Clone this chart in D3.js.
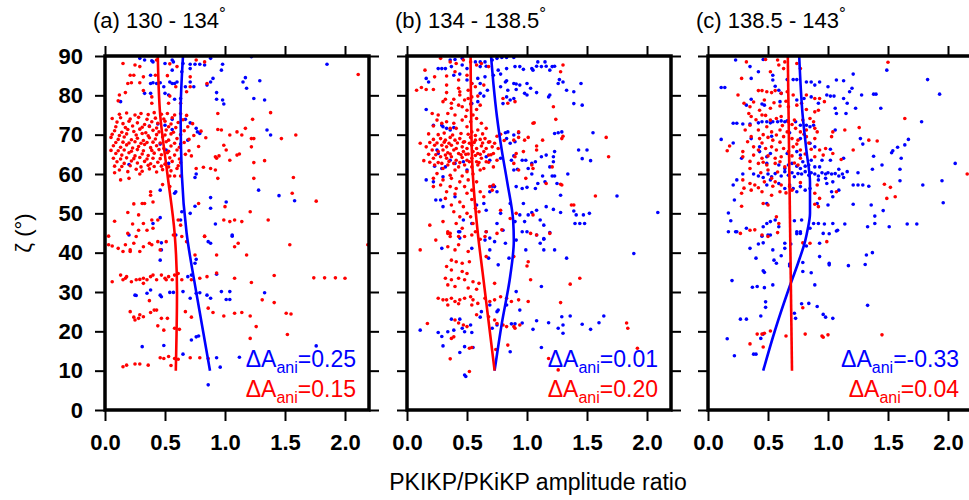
<!DOCTYPE html>
<html>
<head>
<meta charset="utf-8">
<script src="https://cdn.jsdelivr.net/npm/d3@7"></script>
<style>
  body { margin: 0; background: #fff; }
  svg text { font-family: "Liberation Sans", Arial, Helvetica, sans-serif; }
</style>
</head>
<body>
<script>
// tick values
var xTicks = [0, 0.5, 1.0, 1.5, 2.0];
var yTicks = [0, 10, 20, 30, 40, 50, 60, 70, 80, 90];

// panel labels
var panelTags = ['(a)', '(b)', '(c)'];
var panelRanges = ['130 - 134', '134 - 138.5', '138.5 - 143'];
var dAniBlue = ['0.25', '0.01', '-0.33'];
var dAniRed = ['0.15', '0.20', '0.04'];

// fitted curves [ratio, zeta]
var redFitA = [[0.44,90],[0.46,75],[0.52,60],[0.58,45],[0.60,30],[0.59,10]];
var blueFitA = [[0.65,90],[0.63,75],[0.64,60],[0.68,45],[0.76,30],[0.875,10]];
var redFitB = [[0.53,90],[0.54,66],[0.59,45],[0.63,35],[0.73,10]];
var blueFitB = [[0.70,90],[0.72,83],[0.75,74.5],[0.79,66],[0.835,58],[0.885,48],[0.89,43],[0.86,34],[0.79,22],[0.73,10]];
var redFitC = [[0.665,90],[0.70,10]];
var blueFitC = [[0.76,90],[0.79,74.5],[0.82,66],[0.85,57.8],[0.85,50],[0.83,45.8],[0.81,43],[0.75,37.3],[0.67,30.5],[0.56,20.4],[0.46,10]];

// measurements [ratio, zeta]
var redA = [
 [0.15,88.1],[0.25,87.7],[0.29,87.3],[0.54,88.0],[0.6,87.3],[0.76,89.0],[0.83,88.5],[0.21,85.1],[0.24,85.1],[0.32,84.7],[0.19,83.0],[0.22,83.2],[0.29,83.2],[0.42,85.1],[0.52,85.0],[0.71,84.7],[0.85,83.0],[0.12,80.1],[0.17,80.7],[0.32,81.2],[0.39,79.6],[0.54,79.8],[0.68,80.9],[0.71,82.2],[0.59,82.2],[0.11,78.6],[0.53,78.0],[0.63,78.0],[0.39,78.0],[0.94,75.4],[1.23,73.9],[1.38,75.6],[2.11,85.3],[0.43,89.0],
 [0.12,75.2],[0.18,75.5],[0.25,75.0],[0.3,75.4],[0.36,75.1],[0.41,75.6],[0.47,75.2],[0.52,75.4],[0.58,75.0],[0.63,75.3],[0.68,74.9],
 [0.06,74.1],[0.13,74.3],[0.21,74.0],[0.28,74.4],[0.35,73.9],[0.42,74.2],[0.49,74.0],[0.56,74.3],[0.65,73.8],
 [0.1,73.2],[0.15,72.8],[0.2,73.4],[0.27,73.0],[0.33,72.6],[0.39,73.3],[0.44,72.9],[0.5,73.4],[0.55,72.7],[0.61,73.1],[0.73,72.8],
 [0.09,72.0],[0.17,71.8],[0.23,72.2],[0.31,71.9],[0.37,72.1],[0.43,71.7],[0.53,72.0],[0.59,71.8],[0.69,72.0],
 [0.08,71.0],[0.14,70.6],[0.19,71.3],[0.24,70.8],[0.29,71.4],[0.34,70.5],[0.4,71.1],[0.45,70.7],[0.51,71.2],[0.57,70.6],[0.66,71.0],[0.8,70.9],
 [0.06,70.1],[0.12,69.8],[0.18,70.2],[0.26,69.9],[0.31,70.3],[0.36,69.7],[0.43,70.0],[0.5,69.9],[0.55,70.2],[0.63,70.0],[0.74,69.8],
 [0.05,69.3],[0.11,68.8],[0.16,69.4],[0.22,68.7],[0.27,69.1],[0.32,68.5],[0.37,69.2],[0.42,68.9],[0.48,69.4],[0.53,68.6],[0.6,69.0],[0.7,68.8],[0.84,69.2],
 [0.09,68.0],[0.15,68.1],[0.2,67.9],[0.25,68.2],[0.3,67.8],[0.35,68.0],[0.4,68.1],[0.46,67.9],[0.51,68.2],[0.58,67.8],[0.66,68.0],
 [0.07,67.2],[0.13,66.8],[0.18,67.4],[0.23,66.6],[0.28,67.0],[0.33,67.5],[0.38,66.7],[0.43,67.2],[0.49,66.5],[0.55,67.1],[0.62,66.8],[0.78,67.0],
 [0.05,66.0],[0.11,65.9],[0.16,66.1],[0.22,65.8],[0.27,66.2],[0.32,65.9],[0.39,66.0],[0.45,66.2],[0.53,65.8],[0.6,66.1],[0.7,65.9],
 [0.09,65.2],[0.14,64.8],[0.2,65.4],[0.25,64.6],[0.31,65.1],[0.36,64.7],[0.41,65.3],[0.47,64.9],[0.52,65.4],[0.58,64.8],[0.67,65.0],[0.72,64.6],
 [0.07,64.0],[0.13,63.8],[0.18,64.1],[0.24,63.9],[0.29,64.2],[0.35,63.8],[0.4,64.0],[0.46,63.9],[0.54,64.1],[0.62,63.8],
 [0.1,63.1],[0.16,62.7],[0.22,63.3],[0.27,62.8],[0.33,63.2],[0.38,62.6],[0.44,63.0],[0.5,62.5],[0.56,63.2],[0.63,62.9],
 [0.08,62.0],[0.14,61.9],[0.21,62.1],[0.3,61.8],[0.36,62.2],[0.41,61.9],[0.47,62.0],[0.53,61.8],[0.61,62.1],
 [0.12,61.0],[0.19,60.6],[0.26,61.2],[0.31,60.7],[0.37,61.3],[0.43,60.5],[0.48,61.1],[0.55,60.8],[0.6,61.4],
 [0.94,71.3],[0.97,71.2],[1.04,69.9],[1.1,70.7],[1.17,71.6],[1.14,69.9],[1.22,69.0],[1.24,69.0],[1.47,69.0],[1.59,69.9],[1.22,66.9],[0.99,67.3],[1.01,66.1],[1.1,64.8],[1.12,65.1],[1.04,63.5],[0.93,64.0],[0.92,64.4],[0.95,64.6],[1.24,62.9],[1.33,63.4],[0.88,61.4],[0.92,61.0],[0.82,61.7],[0.76,61.4],[0.54,59.5],[0.58,59.5],[0.63,59.5],[0.08,60.3],[0.13,58.5],[0.29,60.0],[0.2,58.9],[0.94,58.9],[1.24,58.9],[1.57,59.1],[0.48,57.3],[0.54,56.8],[0.38,55.5],[0.38,54.6],[1.56,55.1],[1.76,53.1],[0.24,52.4],[0.31,52.5],[0.33,52.5],[0.4,52.9],[0.78,52.5],[1.0,51.7],[1.21,50.4],[0.19,50.2],[0.28,49.6],[0.39,48.3],[0.44,48.3],[0.61,48.3],[0.08,48.0],[0.23,47.3],[0.32,47.4],[0.35,45.7],[0.4,46.2],[0.63,47.0],[0.99,48.3],[1.04,47.9],[1.08,48.3],[1.14,47.9],[1.36,48.3],[0.83,44.2],[0.03,44.2],[0.28,45.7],
 [0.03,42.0],[0.06,41.7],[0.11,41.1],[0.15,40.3],[0.17,42.0],[0.21,40.3],[0.24,42.4],[0.29,40.3],[0.32,41.5],[0.37,42.4],[0.39,42.0],[0.44,42.8],[0.46,40.7],[0.51,42.8],[0.57,44.5],[0.64,44.1],[0.68,42.8],[0.75,39.4],[0.83,44.1],[0.93,39.4],[1.08,41.5],[1.11,42.4],[1.18,39.4],[1.54,42.0],[2.19,42.0],[0.19,44.9],[0.26,44.1],[0.21,40.7],
 [0.06,32.6],[0.13,34.3],[0.15,33.1],[0.18,33.9],[0.22,32.6],[0.26,33.1],[0.29,33.2],[0.32,32.2],[0.35,33.1],[0.38,33.9],[0.4,34.3],[0.43,33.1],[0.47,34.3],[0.5,33.5],[0.53,33.9],[0.56,33.1],[0.58,34.3],[0.64,33.1],[0.72,33.1],[0.79,33.5],[0.85,33.9],[0.93,34.8],[1.08,33.5],[1.22,32.4],[1.41,34.2],[1.74,33.6],[1.83,33.6],[1.92,33.6],[2.0,33.5],[0.17,33.5],[0.32,33.5],[0.51,33.1],[0.61,34.7],
 [0.37,27.8],[0.41,25.4],[0.43,25.4],[0.21,25.0],[0.24,23.6],[0.28,23.3],[0.29,24.2],[0.32,23.7],[0.25,22.9],[0.38,24.8],[0.47,23.3],[0.52,23.3],[0.44,21.4],[0.49,20.3],[0.67,25.0],[0.72,23.6],[0.86,25.9],[0.9,24.8],[0.99,23.9],[1.08,24.6],[1.14,24.8],[1.21,23.9],[1.26,21.2],[1.31,28.0],[1.41,27.3],[1.51,24.6],[1.55,24.4],[1.21,18.2],[1.52,19.2],[0.58,20.8],[0.62,20.5],
 [0.15,11.0],[0.18,11.4],[0.25,11.7],[0.29,11.7],[0.36,11.4],[0.46,13.3],[0.49,13.1],[0.53,13.6],[0.55,11.3],[0.58,13.1],[0.61,12.9],[0.71,13.3],[0.79,13.3],[0.86,13.1]
];

var blueA = [
 [0.29,89.4],[0.33,89.0],[0.39,88.8],[0.4,88.5],[0.5,88.1],[0.56,89.0],[0.57,88.5],[0.65,88.1],[0.71,87.9],[0.75,87.9],[0.79,87.9],[0.83,87.7],[0.88,89.4],[0.98,87.9],[1.22,89.8],[1.85,87.9],[0.97,86.4],[0.56,86.4],[0.71,86.8],[0.64,86.0],[0.38,85.1],
 [1.17,84.5],[1.15,83.4],[1.29,83.7],[0.9,84.3],[0.88,83.4],[0.85,82.6],[0.38,83.0],[0.4,83.2],[0.43,83.0],[0.46,83.2],[0.54,83.4],[0.56,83.0],[0.58,83.0],[0.6,83.4],[0.71,83.4],[0.74,82.2],[0.67,82.2],[0.49,82.2],[0.33,80.5],[0.38,80.5],[0.5,80.5],[0.53,80.1],[0.93,80.7],[1.18,81.8],[1.24,79.2],[0.93,79.0],[0.98,78.8],[0.99,77.8],[1.33,78.8],[0.13,78.4],[0.58,79.0],[0.63,79.2],
 [0.37,72.2],[0.44,72.7],[0.5,72.4],[0.56,73.9],[0.56,71.3],[0.67,73.9],[0.71,73.0],[0.76,71.6],[0.77,70.7],[1.35,71.2],[1.38,69.9],[0.79,70.3],[0.51,66.1],[0.46,67.6],[0.63,67.6],[0.2,62.4],[0.53,62.7],[0.76,60.0],[0.75,59.1],[0.69,68.6],
 [0.46,55.9],[0.58,55.1],[0.59,55.5],[0.88,54.0],[1.01,52.9],[1.28,55.9],[1.45,54.5],[1.58,53.2],[0.75,51.8],[0.71,50.0],[0.88,51.3],[0.64,50.4],[0.63,48.3],[0.46,48.9],[0.4,47.4],[0.92,47.3],[0.2,44.5],[1.06,44.5],[0.59,44.5],
 [0.47,42.5],[0.47,40.7],[0.46,38.1],[0.76,38.3],[0.75,37.3],[0.72,34.3],[0.69,33.9],[0.86,42.8],[0.88,42.4],[1.06,44.2],[0.93,34.5],[0.25,29.2],[0.26,29.1],[0.38,30.5],[0.35,29.7],[0.46,29.2],[0.47,28.8],[0.54,29.9],[0.57,29.9],[0.65,30.1],[0.71,28.4],[0.76,29.7],[0.79,29.8],[0.85,29.2],[0.88,28.4],[0.97,30.1],[1.04,30.1],[1.01,28.1],[1.04,28.1],[1.33,29.8],[0.76,18.6],[0.78,18.8],[0.72,17.8],[0.31,16.1],[0.49,16.4],[1.76,16.3],[0.65,14.2],[0.93,13.3],[0.96,10.9],[1.12,13.4],[0.86,6.4]
];

var redB = [
 [0.28,89.4],[0.36,88.5],[0.41,88.1],[0.47,89.0],[0.53,88.5],[0.58,87.7],[0.62,88.1],[0.68,87.3],[1.3,87.7],[1.28,86.0],[0.15,86.4],[0.23,84.7],[0.33,84.9],[0.4,86.0],[0.43,83.9],[0.5,85.1],[0.54,83.0],[0.08,81.3],[0.12,82.0],[0.16,81.5],[0.22,81.5],[0.33,82.6],[0.43,81.8],[0.44,80.9],[0.51,81.3],[0.57,82.2],[0.64,82.6],[0.33,80.7],[0.44,80.1],[0.54,79.6],[0.32,79.0],[0.39,79.0],[0.48,78.8],[0.51,79.2],[0.59,79.8],[0.3,78.4],[0.37,78.0],[0.43,77.5],[0.46,77.1],[0.53,77.8],[0.61,77.5],[0.84,78.0],[0.9,78.4],[0.8,79.2],[0.37,76.7],[0.5,76.2],[0.58,76.4],[0.21,75.4],[0.26,75.0],[0.34,75.4],[0.4,75.0],[0.49,74.6],[0.55,75.0],[1.22,77.1],[1.24,73.9],
 [0.25,73.7],[0.29,72.9],[0.33,73.3],[0.39,72.9],[0.46,73.7],[0.53,73.3],[0.58,74.1],[0.62,72.9],[0.22,72.2],[0.36,71.6],[0.41,71.6],[0.5,72.0],[0.54,70.7],[0.59,71.2],[0.66,71.6],[1.05,72.9],[1.06,73.0],[0.93,70.7],[1.01,69.3],[0.98,68.6],[0.93,69.3],[0.89,68.6],[0.81,68.5],[0.75,69.6],[0.78,70.1],[1.3,69.6],[1.29,69.0],[1.13,68.6],[1.08,67.1],[1.66,69.3],[1.68,64.4],
 [0.18,70.2],[0.26,70.0],[0.31,70.4],[0.38,69.9],[0.45,70.3],[0.51,70.1],[0.57,69.8],[0.63,70.2],
 [0.19,68.0],[0.25,67.9],[0.31,68.1],[0.35,67.8],[0.42,67.9],[0.47,68.1],[0.52,67.8],[0.56,68.0],[0.63,67.9],[0.68,68.1],
 [0.18,65.0],[0.24,64.9],[0.32,64.8],[0.36,65.1],[0.45,64.9],[0.49,65.0],[0.57,64.7],[0.61,65.0],[0.7,64.9],
 [0.19,63.0],[0.26,62.9],[0.35,63.2],[0.44,62.9],[0.52,63.1],[0.6,62.9],[0.68,63.0],
 [0.22,68.8],[0.28,69.0],[0.32,68.6],[0.36,69.3],[0.4,68.6],[0.44,69.0],[0.48,68.2],[0.53,69.3],[0.57,68.6],[0.61,68.8],[0.65,69.0],[0.69,68.2],[0.73,67.8],[0.11,67.8],[0.16,66.9],[0.23,67.3],[0.29,67.3],[0.33,66.9],[0.37,67.3],[0.41,66.5],[0.46,66.9],[0.5,66.5],[0.54,67.3],[0.58,66.5],[0.62,67.1],[0.66,66.5],[0.71,66.9],[0.76,66.5],[0.21,66.1],[0.26,65.7],[0.3,66.1],[0.34,65.4],[0.39,66.1],[0.43,65.2],[0.47,65.7],[0.51,65.1],[0.55,65.7],[0.59,65.2],[0.64,65.7],[0.68,64.8],[0.72,65.2],[0.14,63.4],[0.22,64.0],[0.28,64.4],[0.33,64.0],[0.37,64.4],[0.41,63.5],[0.46,64.2],[0.5,63.5],[0.54,64.0],[0.58,63.1],[0.62,64.0],[0.66,63.1],[0.75,63.5],[0.23,62.3],[0.29,62.7],[0.34,62.3],[0.39,62.7],[0.43,61.8],[0.48,62.3],[0.54,61.8],[0.59,62.3],[0.64,61.4],[0.3,61.4],[0.4,61.0],[0.5,60.6],[0.61,61.0],[0.72,61.8],[0.25,60.1],[0.36,59.7],[0.46,59.5],[0.55,60.0],[0.91,65.2],[0.9,64.4],[0.97,65.7],[1.04,62.3],[1.05,61.4],[1.08,66.1],[1.21,61.8],[1.29,57.2],[1.37,52.1],[1.57,54.4],[1.16,57.6],[0.99,58.9],[0.93,61.0],[0.89,62.7],
 [0.22,58.9],[0.3,58.5],[0.37,58.9],[0.44,58.0],[0.51,58.5],[0.58,58.0],[0.28,57.2],[0.36,56.8],[0.41,56.3],[0.48,56.8],[0.54,55.9],[0.22,56.8],[0.69,56.8],[0.72,57.2],[0.71,55.9],[0.33,55.5],[0.4,54.9],[0.5,55.1],[0.61,55.5],[0.32,53.8],[0.44,52.9],[0.54,53.5],[0.64,54.2],[0.37,52.1],[0.47,51.7],[0.57,51.3],[0.78,50.8],[0.39,50.4],[0.5,50.0],[0.6,50.4],[0.53,49.1],[0.44,49.1],[0.86,48.7],[0.91,50.0],[1.05,49.6],[0.3,47.9],[0.41,47.4],[0.55,47.4],[0.19,47.0],[0.46,46.2],[0.34,45.3],[0.36,44.9],[0.66,45.3],[0.75,44.9],[1.03,44.9],[1.08,44.5],[1.19,44.9],[1.39,52.1],[1.28,57.4],
 [0.24,43.2],[0.34,44.9],[0.36,44.1],[0.43,44.1],[0.43,42.0],[0.48,44.1],[0.54,44.5],[0.57,45.3],[0.61,43.4],[0.65,44.1],[0.79,45.8],[0.11,40.7],[0.34,41.5],[0.4,40.7],[0.51,40.3],[0.66,39.0],[0.89,39.0],[1.01,37.7],[1.0,36.6],[0.37,38.1],[0.41,37.7],[0.46,37.3],[0.52,37.7],[0.33,36.5],[0.37,35.6],[0.46,35.2],[0.5,34.7],[0.32,33.5],[0.37,33.1],[0.43,33.5],[0.48,33.1],[0.55,32.6],[0.6,32.2],[0.34,31.8],[0.4,31.4],[0.51,31.0],[0.58,30.7],[0.73,32.2],[1.03,33.1],[1.36,32.0],[1.44,33.5],
 [0.26,28.4],[0.3,28.0],[0.33,28.0],[0.37,28.4],[0.4,27.6],[0.44,28.0],[0.48,28.4],[0.53,28.8],[0.55,28.0],[0.59,27.1],[0.65,28.4],[0.69,27.6],[0.73,28.0],[0.78,28.8],[0.83,28.4],[0.87,27.6],[0.93,28.0],[1.01,27.6],[0.34,26.7],[0.43,27.0],[0.54,26.7],[1.28,27.3],[0.4,22.9],[0.43,22.1],[0.47,21.6],[0.5,21.2],[0.58,24.2],[0.68,23.7],[0.73,22.9],[0.75,22.0],[0.8,21.6],[0.83,21.2],[0.89,21.2],[0.9,20.8],[0.94,21.6],[0.17,22.0],[0.37,18.2],[0.39,18.6],[0.84,16.5],[0.74,15.4],[0.52,15.7],[0.54,15.9],[0.36,13.0],[1.18,13.1],[1.26,10.2],[0.52,9.8],[1.83,22.1],[1.84,20.8],[1.92,15.7]
];

var blueB = [
 [0.36,89.0],[0.4,89.1],[0.46,89.4],[0.57,88.5],[0.61,88.5],[0.65,88.5],[0.71,89.0],[0.75,89.4],[0.79,89.6],[0.83,89.6],[0.89,89.6],[0.26,86.8],[0.29,86.8],[0.32,86.8],[0.37,87.3],[0.46,87.7],[0.5,86.8],[0.61,87.3],[0.66,87.4],[0.76,86.4],[0.83,86.8],[0.9,87.3],[0.94,87.3],[0.97,86.6],[1.04,86.8],[1.08,87.4],[1.12,87.3],[1.16,87.4],[1.21,87.3],[1.23,87.4],[1.15,88.5],[1.09,88.5],[1.05,86.4],[1.19,86.4],
 [0.16,84.3],[0.18,83.4],[0.39,85.1],[0.44,85.4],[0.5,83.9],[0.54,83.0],[0.59,84.3],[0.61,83.0],[0.65,84.7],[0.72,85.1],[0.78,85.4],[0.82,83.4],[0.83,83.7],[0.89,83.0],[0.91,82.9],[0.94,82.6],[1.0,83.0],[0.78,82.2],[0.84,81.3],[0.91,81.5],[1.03,81.8],[1.08,80.7],[1.0,80.1],[0.98,80.5],[1.26,83.0],[1.27,84.0],[1.3,83.4],[1.33,81.3],[1.39,80.9],[1.45,83.0],[1.39,77.9],[1.46,77.5],[1.19,80.1],[1.18,79.6],[0.61,80.5],[0.64,79.8],[0.67,81.3],[0.59,78.4],[0.54,77.9],[0.83,79.6],[0.86,78.8],[0.89,79.2],[0.8,77.9],[0.16,76.4],
 [0.3,72.0],[0.33,71.6],[0.36,71.2],[0.39,71.8],[0.29,72.4],[0.22,72.4],[0.82,70.5],[0.84,70.7],[0.93,70.5],[0.89,69.9],[1.23,70.3],[1.26,70.5],[1.29,70.7],[1.55,70.5],[0.83,69.0],[0.86,67.8],[0.9,68.2],[0.25,66.1],[0.26,65.2],[0.36,63.5],[0.4,62.7],[0.47,63.1],[0.32,61.8],[0.29,61.4],[0.23,62.0],[0.5,61.0],[0.66,64.4],[0.69,63.5],[0.78,64.0],[0.87,63.5],[0.89,64.6],[0.96,63.5],[0.99,63.5],[1.04,62.7],[1.07,63.1],[1.12,64.4],[1.16,64.8],[1.22,64.4],[1.23,65.7],[1.22,63.1],[1.19,61.8],[1.43,66.1],[1.5,66.1],[1.46,63.9],[1.53,63.4],[1.34,60.0],[1.23,59.5],[1.21,59.5],[1.13,59.5],[1.04,60.0],[1.01,61.4],[0.92,61.2],[0.89,61.0],[0.16,58.5],[0.22,58.0],[0.3,59.3],
 [0.73,56.8],[0.71,56.9],[0.69,55.5],[0.75,55.5],[0.91,56.8],[0.96,56.3],[1.0,56.6],[1.07,56.3],[1.09,57.6],[1.15,58.0],[1.25,57.6],[1.28,54.6],[0.24,53.4],[0.28,53.4],[0.4,54.2],[0.3,51.7],[0.58,52.1],[0.64,52.5],[0.86,52.5],[0.97,52.5],[1.08,50.8],[1.16,51.7],[1.22,51.0],[1.28,50.2],[1.39,50.6],[1.41,49.6],[1.47,49.6],[1.52,50.0],[1.75,54.4],[2.09,50.2],[0.66,50.8],[0.78,50.0],[0.94,49.6],[1.01,49.6],[1.04,50.2],[0.9,47.9],[0.98,47.9],[1.11,48.3],[1.14,47.0],[1.4,47.4],[1.44,47.4],[1.48,47.4],[0.47,48.3],[0.54,47.4],[0.75,47.4],[0.8,45.7],[0.66,45.3],[0.44,45.3],[1.14,43.6],[1.19,45.1],
 [0.43,45.3],[0.44,43.7],[0.65,43.2],[0.69,43.7],[0.73,42.8],[0.82,42.4],[0.91,43.2],[0.96,45.3],[1.0,45.3],[1.08,44.5],[1.11,42.4],[1.14,43.4],[1.23,40.7],[1.14,40.7],[0.99,40.7],[0.29,41.1],[0.54,41.1],[1.33,38.6],[1.89,39.8],[0.68,38.6],[0.76,36.9],[0.85,38.6],[0.69,40.7],[1.12,31.4],[0.91,30.1],[0.62,25.0],[0.61,23.6],[0.69,26.7],[0.75,25.0],[0.76,25.4],[0.83,26.7],[0.94,25.4],[0.37,23.1],[0.44,23.1],[0.71,20.8],[0.75,21.6],[0.87,21.9],[0.9,21.9],[0.96,22.1],[1.08,22.7],[1.18,22.2],[1.29,23.7],[1.36,23.9],[1.3,21.6],[1.26,20.8],[1.3,19.5],[1.05,20.5],[1.46,21.8],[1.53,20.5],[1.6,22.2],[1.64,23.9],[0.11,20.3],[0.26,19.7],[0.29,18.7],[0.34,19.9],[0.39,20.3],[0.46,20.8],[0.48,19.9],[0.53,21.6],[0.54,19.7],[0.3,16.3],[0.44,14.6],[0.48,16.1],[0.55,15.9],[0.86,14.8],[1.12,15.9],[0.48,8.9],[0.49,8.5]
];

var redC = [
 [0.32,88.5],[0.48,89.1],[0.58,89.0],[0.59,87.7],[0.64,88.5],[0.74,88.1],[0.77,86.8],[1.5,88.4],[0.28,84.3],[0.52,86.0],[0.63,86.8],[0.25,80.1],[0.42,81.2],[0.45,81.2],[0.49,80.9],[0.53,80.7],[0.56,81.2],[0.61,80.5],[0.66,80.9],[0.71,80.1],[0.82,80.1],[0.89,79.2],[0.93,79.2],[0.97,78.4],[0.35,77.1],[0.43,76.2],[0.52,76.7],[0.6,77.3],[0.67,77.1],[0.74,77.5],[0.82,76.4],[0.89,75.8],[0.92,76.2],[1.64,74.1],[0.34,75.4],[0.36,74.6],[0.45,75.0],[0.52,73.7],[0.57,74.1],[0.61,74.6],[0.67,73.3],[0.72,73.7],[0.79,73.7],[0.85,74.1],[0.88,73.3],
 [0.3,78.0],[0.38,78.3],[0.47,78.8],[0.55,78.1],[0.65,78.5],[0.78,78.0],[0.4,73.8],[0.48,74.9],[0.62,72.3],[0.7,72.6],[0.46,70.0],[0.57,69.9],[0.8,70.1],[0.33,68.2],[0.45,67.9],[0.6,68.1],[0.74,67.6],[0.84,67.9],[0.35,63.2],[0.46,63.0],[0.6,63.1],[0.72,62.8],[0.44,60.3],[0.58,60.5],[0.3,56.4],[0.42,56.5],[0.54,56.9],[0.65,55.2],
 [0.35,72.4],[0.31,71.2],[0.42,71.2],[0.49,72.0],[0.53,70.7],[0.6,71.2],[0.66,70.7],[0.73,71.6],[0.77,70.7],[0.82,71.2],[0.89,71.6],[0.91,70.7],[1.04,70.7],[1.14,71.2],[1.26,71.8],[0.36,69.5],[0.43,69.0],[0.5,69.3],[0.54,68.6],[0.63,69.5],[0.7,69.0],[0.75,68.6],[0.82,69.5],[0.89,69.0],[1.03,69.5],[1.34,68.6],[1.41,68.4],[0.18,67.1],[0.16,65.9],[0.29,65.7],[0.38,66.9],[0.42,66.1],[0.48,66.5],[0.53,66.9],[0.57,66.1],[0.63,66.5],[0.67,65.7],[0.71,66.9],[0.77,66.1],[0.86,66.3],[0.93,66.1],[0.98,66.5],[1.21,66.1],[0.29,64.4],[0.38,64.8],[0.45,64.0],[0.5,64.6],[0.56,64.0],[0.61,64.4],[0.7,64.6],[0.77,64.0],[0.81,65.1],[0.89,64.4],[0.96,64.8],[1.04,65.2],[1.11,63.7],[0.42,62.7],[0.49,62.3],[0.56,62.7],[0.64,61.8],[0.75,62.3],[0.35,61.4],[0.5,61.0],
 [0.29,58.5],[0.35,57.6],[0.39,57.2],[0.47,58.0],[0.53,58.9],[0.56,58.0],[0.61,57.2],[0.68,56.8],[0.77,57.8],[0.91,57.2],[0.28,55.1],[0.36,55.9],[0.45,55.5],[0.53,54.6],[0.6,55.5],[0.7,55.9],[0.89,55.1],[0.93,53.8],[1.07,55.5],[1.47,57.4],[1.49,53.8],[1.52,56.6],[1.56,54.2],[2.16,60.0],[0.28,51.8],[0.46,52.5],[0.5,52.1],[0.89,52.3],[0.92,51.7],[0.57,49.1],[0.59,47.4],[0.27,44.9],[0.45,44.5],[0.35,45.7],
 [0.39,45.8],[0.5,44.1],[0.58,45.1],[0.79,42.5],[0.85,42.4],[0.99,42.8],[0.79,26.0],[0.35,16.8],[0.41,19.3],[0.45,19.3],[0.47,19.5],[0.52,20.1],[0.46,16.0],[0.65,18.8],[0.81,19.3],[0.95,18.8],[0.96,18.5],[1.0,19.1],[1.45,19.1]
];

var blueC = [
 [0.23,89.0],[0.35,87.3],[0.42,86.0],[0.46,89.1],[0.66,84.0],[0.71,84.0],[0.74,84.0],[0.54,85.1],[0.54,83.9],[0.36,84.3],[0.11,82.0],[0.14,82.0],[0.56,82.3],[0.59,81.3],[0.61,80.5],[0.82,83.4],[0.86,83.4],[0.89,82.6],[0.93,83.4],[1.0,82.2],[1.07,83.9],[1.13,83.7],[1.21,85.4],[1.2,81.8],[1.18,80.9],[1.28,80.1],[1.38,80.3],[1.4,80.3],[1.83,84.0],[1.93,80.3],[1.49,86.4],[0.99,80.1],[1.02,79.8],[1.05,79.8],[0.92,78.0],[1.16,78.0],[1.13,79.2],[0.32,77.5],[0.45,77.8],[0.47,77.5],[0.6,78.4],[0.74,78.8],[0.8,79.2],[0.86,79.6],[0.36,79.0],[1.23,76.7],[1.06,76.7],[1.07,75.4],[1.15,75.4],[1.44,76.7],
 [0.21,72.9],[0.24,72.9],[0.29,72.7],[0.35,72.7],[0.42,73.0],[0.45,73.3],[0.49,73.3],[0.52,73.0],[0.54,73.3],[0.58,73.3],[0.61,73.5],[0.64,73.3],[0.66,73.5],[0.73,73.3],[0.77,72.4],[0.82,72.4],[0.85,72.0],[0.88,72.4],[1.78,73.3],[0.11,68.8],[0.21,67.9],[0.36,69.0],[0.53,69.6],[0.68,70.5],[0.77,69.0],[0.85,67.8],[0.89,66.9],[1.06,71.2],[1.27,69.0],[1.29,67.6],[1.67,68.8],[1.64,67.4],[1.58,66.8],[1.54,65.9],[1.53,65.4],[1.61,64.0],[1.38,64.5],[1.45,62.3],[0.43,66.9],[0.43,65.7],[0.49,64.4],[0.52,65.2],[0.66,65.2],[0.74,65.7],[0.77,64.8],[0.79,63.1],[0.86,63.5],[0.95,63.5],[1.02,66.3],[1.02,63.5],[1.13,64.0],[0.28,64.0],[0.49,62.7],[0.59,62.3],[0.64,61.4],[0.67,62.3],[0.7,62.7],[0.74,62.0],[0.77,61.4],[0.81,62.0],[0.84,62.3],[0.89,61.8],[0.93,61.8],[1.09,61.2],[1.16,60.6],[1.25,60.3],[1.37,61.2],[1.6,61.2],
 [0.29,60.0],[0.38,60.0],[0.42,59.5],[0.46,59.1],[0.5,60.0],[0.53,59.3],[0.56,60.1],[0.61,59.5],[0.64,60.6],[0.67,59.7],[0.7,60.3],[0.72,59.3],[0.75,60.1],[0.78,60.0],[0.81,60.6],[0.84,59.7],[0.86,60.3],[0.89,60.0],[0.92,59.5],[0.95,60.3],[0.98,60.0],[1.0,60.3],[1.03,60.0],[1.06,60.1],[1.09,59.5],[1.12,60.0],[1.13,59.1],[0.92,58.5],[0.98,58.9],[1.04,58.0],
 [0.21,57.2],[0.24,58.5],[0.22,53.4],[0.49,57.2],[0.52,58.5],[0.59,57.6],[0.64,56.3],[0.68,57.2],[0.71,56.3],[0.74,55.5],[0.77,56.8],[0.81,55.9],[0.85,56.3],[0.99,57.6],[1.03,55.5],[1.09,55.9],[1.21,57.2],[1.25,57.2],[1.29,57.2],[1.34,56.9],[1.6,58.3],[1.79,57.2],[1.95,58.3],[2.06,62.7],[1.04,54.2],[1.0,52.1],[0.91,52.5],[1.21,52.3],[1.36,52.1],[1.46,50.7],[1.96,52.7],[0.49,52.5],[0.17,50.1],[0.19,48.1],[0.49,47.4],[0.52,47.9],[0.56,48.3],[0.59,46.6],[0.72,48.1],[0.78,48.3],[0.88,47.4],[0.92,47.4],[0.97,47.3],[1.04,47.4],[1.14,47.3],[1.39,49.3],[1.39,47.4],[1.33,46.6],[1.51,46.6],[1.66,47.3],[1.74,47.3],[0.32,46.2],[0.46,46.6],[0.24,45.3],[0.52,44.5],[0.74,45.3],[0.77,44.9],[0.85,46.2],[0.96,44.9],[1.08,45.7],
 [0.17,45.3],[0.23,45.3],[0.45,44.2],[0.5,44.5],[0.74,44.8],[0.77,45.3],[1.01,44.8],[1.07,45.5],[0.54,40.7],[0.35,41.1],[0.42,42.2],[0.46,42.5],[0.64,42.4],[0.64,41.1],[0.69,42.2],[0.82,41.7],[0.93,42.4],[1.32,39.4],[1.37,40.0],[0.93,39.0],[0.4,38.6],[0.55,38.1],[0.57,37.3],[0.61,39.2],[0.68,37.1],[0.68,36.6],[0.79,37.5],[1.01,37.3],[1.01,36.9],[1.17,36.7],[1.31,37.0],[0.46,35.4],[0.47,35.0],[0.79,35.2],[0.86,34.9],[0.2,32.9],[0.37,31.2],[0.41,31.4],[0.47,31.1],[0.54,31.8],[0.89,31.8],[0.48,27.5],[0.48,26.1],[0.78,27.0],[0.84,27.1],[0.91,26.3],[1.33,26.6],[0.44,23.9],[0.72,24.6],[0.73,23.3],[0.96,24.3],[0.98,23.6],[1.04,23.3],[0.27,23.1],[0.32,23.1],[0.44,18.2],[0.46,19.3],[0.16,18.1],[0.22,13.8],[0.38,14.2],[0.4,14.2]
];

(function() {

	var width = 969;
	var height = 500;
	var panelLeft = [105, 407, 708];
	var panelWidth = 264;
	var top = 56;
	var bottom = 410;
	var fontFamily = '"Liberation Sans", Arial, Helvetica, sans-serif';

	var reds = [redA, redB, redC];
	var blues = [blueA, blueB, blueC];
	var redFits = [redFitA, redFitB, redFitC];
	var blueFits = [blueFitA, blueFitB, blueFitC];

	var svg = d3.select('body')
		.append('svg')
			.attr('width', width)
			.attr('height', height);

	svg.append('rect')
		.attr('width', width)
		.attr('height', height)
		.style('fill', '#fff');

	var y = d3.scaleLinear().domain([0, 90]).range([bottom, top]);

	function styleAxis(g) {
		g.select('.domain').remove();
		g.selectAll('.tick line')
			.style('stroke', '#000')
			.style('stroke-width', 2);
		g.selectAll('.tick text')
			.style('font-family', fontFamily)
			.style('font-size', '22px')
			.style('font-weight', 'bold')
			.style('fill', '#000');
	}

	for (var p = 0; p < 3; p++) {

		var left = panelLeft[p];
		var x = d3.scaleLinear().domain([0, 2.2]).range([left, left + panelWidth]);
		var g = svg.append('g');

		// points
		g.selectAll('circle.blue')
			.data(blues[p])
			.enter()
			.append('circle')
				.attr('class', 'blue')
				.attr('cx', function(d) { return x(d[0]); })
				.attr('cy', function(d) { return y(d[1]); })
				.attr('r', 1.8)
				.style('fill', '#0000ff');

		g.selectAll('circle.red')
			.data(reds[p])
			.enter()
			.append('circle')
				.attr('class', 'red')
				.attr('cx', function(d) { return x(d[0]); })
				.attr('cy', function(d) { return y(d[1]); })
				.attr('r', 1.8)
				.style('fill', '#ff0000');

		// fit curves
		var line = d3.line()
			.x(function(d) { return x(d[0]); })
			.y(function(d) { return y(d[1]); })
			.curve(d3.curveMonotoneY);

		g.append('path')
			.datum(blueFits[p])
			.attr('d', line)
			.style('fill', 'none')
			.style('stroke', '#0000ff')
			.style('stroke-width', 2.6);

		g.append('path')
			.datum(redFits[p])
			.attr('d', line)
			.style('fill', 'none')
			.style('stroke', '#ff0000')
			.style('stroke-width', 2.6);

		// axes, ticks outside on all four sides
		g.append('g')
			.attr('transform', 'translate(' + left + ',0)')
			.call(d3.axisLeft(y).tickValues(yTicks).tickSize(10).tickPadding(12)
				.tickFormat(p === 0 ? d3.format('d') : ''))
			.call(styleAxis);

		g.append('g')
			.attr('transform', 'translate(' + (left + panelWidth) + ',0)')
			.call(d3.axisRight(y).tickValues(yTicks).tickSize(10).tickFormat(''))
			.call(styleAxis);

		g.append('g')
			.attr('transform', 'translate(0,' + top + ')')
			.call(d3.axisTop(x).tickValues(xTicks).tickSize(10).tickFormat(''))
			.call(styleAxis);

		g.append('g')
			.attr('transform', 'translate(0,' + bottom + ')')
			.call(d3.axisBottom(x).tickValues(xTicks).tickSize(11).tickPadding(13).tickFormat(d3.format('.1f')))
			.call(styleAxis);

		// frame
		g.append('rect')
			.attr('x', left)
			.attr('y', top)
			.attr('width', panelWidth)
			.attr('height', bottom - top)
			.style('fill', 'none')
			.style('stroke', '#000')
			.style('stroke-width', 3.5);

		// title
		var title = svg.append('text')
			.attr('x', left - 12)
			.attr('y', 28)
			.style('font-family', fontFamily)
			.style('font-size', '22px')
			.style('fill', '#000');
		title.append('tspan').text(panelTags[p] + ' ' + panelRanges[p]);
		title.append('tspan')
			.attr('dy', -9)
			.style('font-size', '17px')
			.text('\u00b0');

		// delta A annotations
		var notes = [[dAniBlue[p], '#0000ff', 367], [dAniRed[p], '#ff0000', 397]];
		notes.forEach(function(n) {
			var t = svg.append('text')
				.attr('x', left + panelWidth - 13)
				.attr('y', n[2])
				.attr('text-anchor', 'end')
				.style('font-family', fontFamily)
				.style('font-size', '23px')
				.style('fill', n[1]);
			t.append('tspan').text('\u0394A');
			t.append('tspan').attr('dy', 6).style('font-size', '16px').text('ani');
			t.append('tspan').attr('dy', -6).text('=' + n[0]);
		});
	}

	// axis titles
	svg.append('text')
		.attr('transform', 'translate(31,233) rotate(-90)')
		.attr('text-anchor', 'middle')
		.style('font-family', fontFamily)
		.style('font-size', '22px')
		.style('fill', '#000')
		.text('\u03b6 (\u00b0)');

	svg.append('text')
		.attr('x', 538)
		.attr('y', 490)
		.attr('text-anchor', 'middle')
		.style('font-family', fontFamily)
		.style('font-size', '23px')
		.style('fill', '#000')
		.text('PKIKP/PKiKP amplitude ratio');

})();
</script>
</body>
</html>
